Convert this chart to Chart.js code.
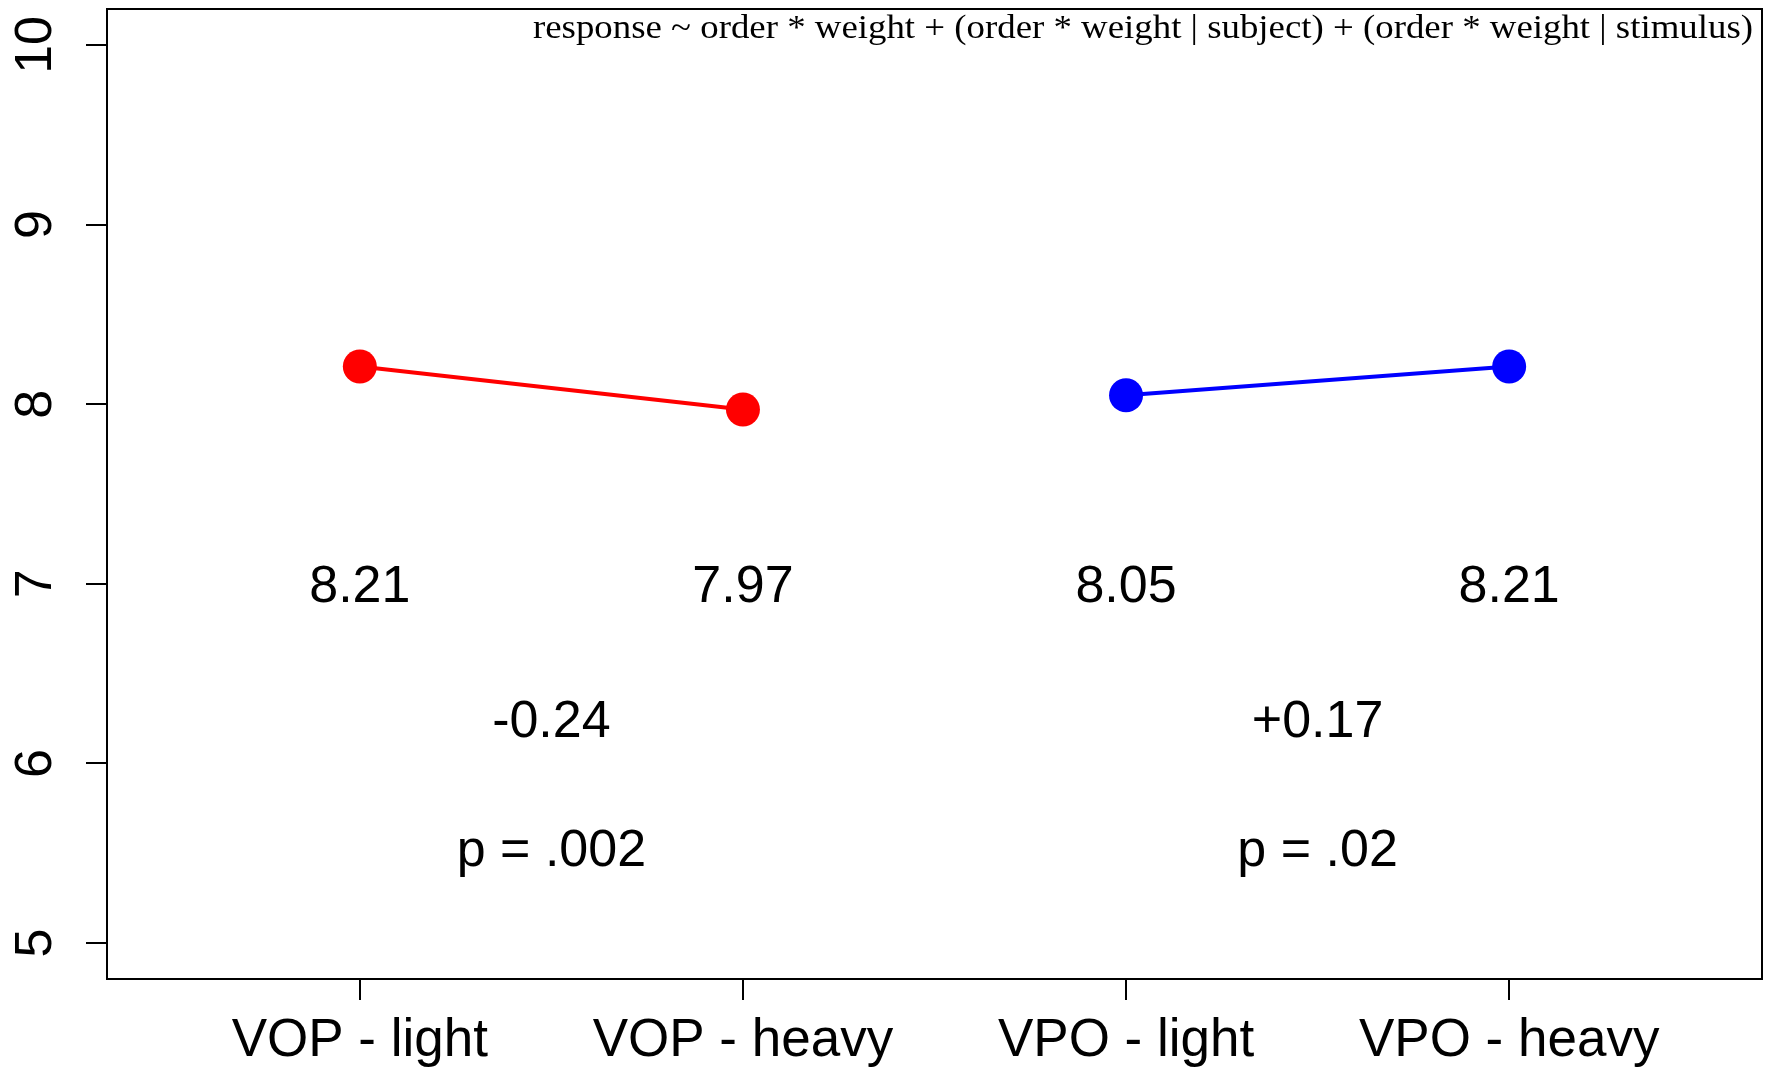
<!DOCTYPE html>
<html>
<head>
<meta charset="utf-8">
<script src="https://cdn.jsdelivr.net/npm/chart.js@4/dist/chart.umd.min.js"></script>
<style>
  html, body { margin: 0; padding: 0; background: #fff; }
  #wrap { width: 1771px; height: 1067px; }
</style>
</head>
<body>
<div id="wrap"><canvas id="chart" width="1771" height="1067"></canvas></div>
<script>
// data
const categories = ["VOP - light", "VOP - heavy", "VPO - light", "VPO - heavy"];
const vopValues = [8.21, 7.97];
const vpoValues = [8.05, 8.21];
const diffLabels = ["-0.24", "+0.17"];
const pLabels = ["p = .002", "p = .02"];
const yTicks = [5, 6, 7, 8, 9, 10];
const xTicks = [1, 2, 3, 4];
const formula = "response ~ order * weight + (order * weight | subject) + (order * weight | stimulus)";

const sans = "'Liberation Sans', Arial, sans-serif";

// box, rotated y labels, text annotations
const extras = {
  id: "extras",
  afterDraw(chart) {
    const ctx = chart.ctx;
    const a = chart.chartArea;
    const xs = chart.scales.x;
    const ys = chart.scales.y;
    ctx.save();
    ctx.strokeStyle = "#000";
    ctx.lineWidth = 2;
    ctx.strokeRect(a.left, a.top, a.right - a.left, a.bottom - a.top);

    ctx.fillStyle = "#000";
    ctx.font = "52px " + sans;
    ctx.textAlign = "center";
    ctx.textBaseline = "middle";
    yTicks.forEach(v => {
      ctx.save();
      ctx.translate(37, ys.getPixelForValue(v));
      ctx.rotate(-Math.PI / 2);
      ctx.fillText(String(v), 0, 0);
      ctx.restore();
    });

    // value labels under points
    ctx.textBaseline = "alphabetic";
    const cap = 52 * 0.358;
    const all = vopValues.concat(vpoValues);
    all.forEach((v, i) => {
      ctx.fillText(v.toFixed(2), xs.getPixelForValue(i + 1), ys.getPixelForValue(7) + cap);
    });
    diffLabels.forEach((t, i) => {
      const x = xs.getPixelForValue(1.5 + 2 * i);
      ctx.fillText(t, x, ys.getPixelForValue(6.25) + cap);
      ctx.fillText(pLabels[i], x, ys.getPixelForValue(5.53) + cap);
    });

    // model formula, top right
    ctx.font = "33px 'Liberation Serif', 'Times New Roman', serif";
    ctx.textAlign = "left";
    const w = ctx.measureText(formula).width;
    const target = 1220;
    ctx.translate(a.right - 9 - target, a.top + 29);
    ctx.scale(target / w, 1);
    ctx.fillText(formula, 0, 0);
    ctx.restore();
  }
};

Chart.defaults.font.family = sans;
Chart.defaults.color = "#000";

new Chart(document.getElementById("chart"), {
  type: "line",
  data: {
    datasets: [
      {
        label: "VOP",
        data: vopValues.map((v, i) => ({ x: i + 1, y: v })),
        borderColor: "#ff0000",
        backgroundColor: "#ff0000",
        borderWidth: 4,
        pointRadius: 17,
        pointBorderWidth: 0,
        pointBackgroundColor: "#ff0000",
      },
      {
        label: "VPO",
        data: vpoValues.map((v, i) => ({ x: i + 3, y: v })),
        borderColor: "#0000ff",
        backgroundColor: "#0000ff",
        borderWidth: 4,
        pointRadius: 17,
        pointBorderWidth: 0,
        pointBackgroundColor: "#0000ff",
      },
    ],
  },
  options: {
    responsive: false,
    animation: false,
    events: [],
    layout: { autoPadding: false, padding: { left: 0, top: 9, right: 9, bottom: 0 } },
    plugins: {
      legend: { display: false },
      tooltip: { enabled: false },
    },
    scales: {
      x: {
        type: "linear",
        min: 0.34,
        max: 4.66,
        afterBuildTicks: s => { s.ticks = xTicks.map(v => ({ value: v })); },
        afterFit: s => { s.height = 88; },
        border: { display: false },
        grid: { drawOnChartArea: false, drawTicks: true, tickLength: 21, color: "#000", lineWidth: 2 },
        ticks: {
          autoSkip: false,
          maxRotation: 0,
          padding: 10,
          font: { size: 53 },
          callback: v => categories[v - 1],
        },
      },
      y: {
        type: "linear",
        min: 4.8,
        max: 10.2,
        afterBuildTicks: s => { s.ticks = yTicks.map(v => ({ value: v })); },
        afterFit: s => { s.width = 107; },
        border: { display: false },
        grid: { drawOnChartArea: false, drawTicks: true, tickLength: 21, color: "#000", lineWidth: 2 },
        ticks: { display: false },
      },
    },
  },
  plugins: [extras],
});
</script>
</body>
</html>
